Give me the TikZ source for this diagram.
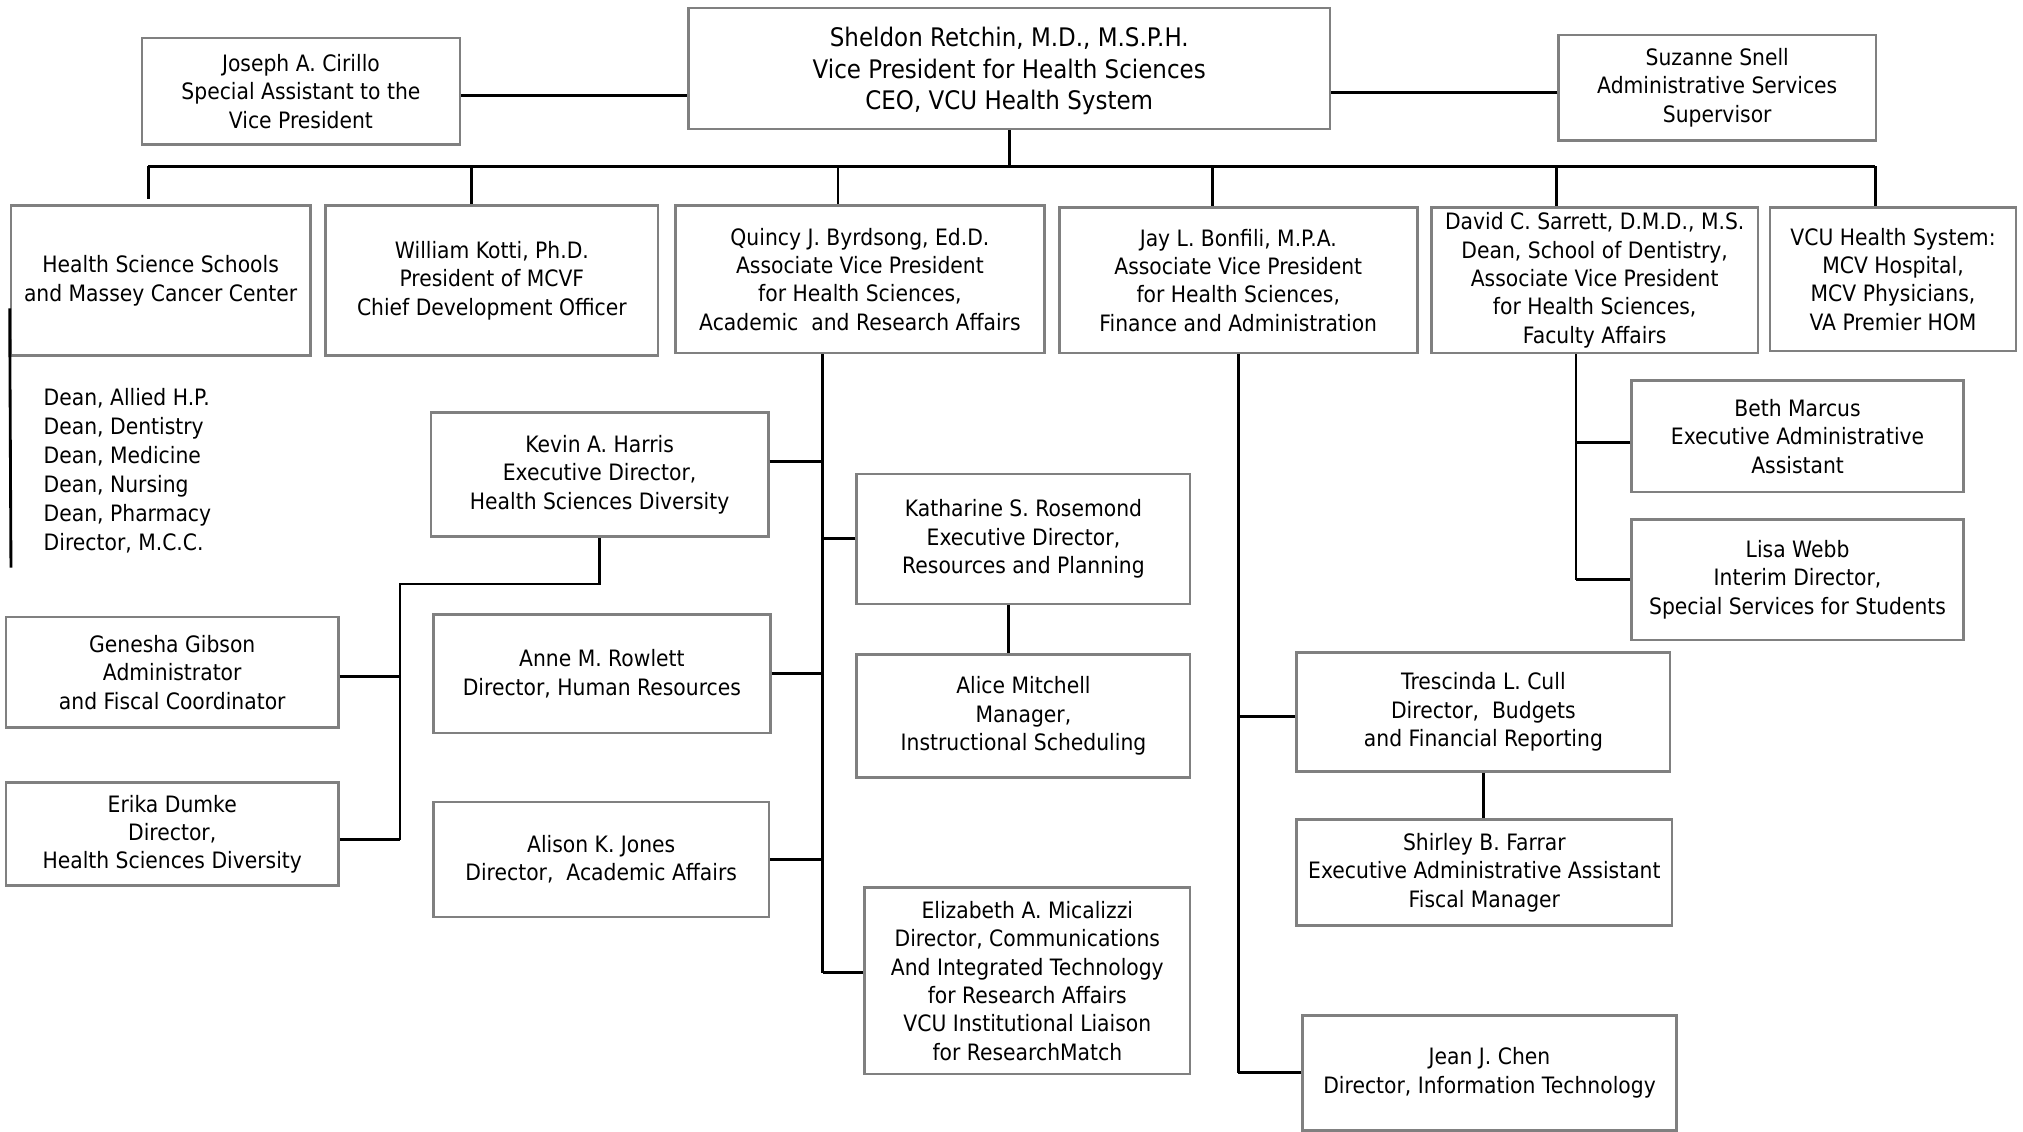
\documentclass[tikz,border=0pt]{standalone}
\usepackage{fontspec}
\setmainfont{DejaVu Sans}[FakeStretch=0.9]
\definecolor{boxgray}{rgb}{0.5,0.5,0.5}

\begin{document}
\begin{tikzpicture}[x=0.5pt,y=-0.5pt,
  person/.style={draw=boxgray,line width=1pt,align=center,inner sep=0pt,font=\fontsize{8.75}{11}\selectfont},
  link/.style={line width=1.1pt},
  thinlink/.style={line width=0.75pt}]
\useasboundingbox (0,0) rectangle (1568,877.3);

\node[person,minimum width=248.75pt,minimum height=46.9pt,text depth=0pt,font=\fontsize{9.9}{12.25}\selectfont] (sheldon) at (782.25,53.1) {Sheldon Retchin, M.D., M.S.P.H.\\Vice President for Health Sciences\\CEO, VCU Health System};
\node[person,minimum width=123.25pt,minimum height=41.3pt] (joseph) at (233.25,70.7) {Joseph A. Cirillo\\Special Assistant to the\\Vice President};
\node[person,minimum width=123pt,minimum height=41pt] (suzanne) at (1331,68) {Suzanne Snell\\Administrative Services\\Supervisor};

\node[person,minimum width=116pt,minimum height=58pt] (hss) at (124.5,217.5) {Health Science Schools\\and Massey Cancer Center};
\node[person,minimum width=128.75pt,minimum height=58pt] (kotti) at (381.25,217.5) {William Kotti, Ph.D.\\President of MCVF\\Chief Development Officer};
\node[person,minimum width=143pt,minimum height=57.1pt] (quincy) at (666.5,216.5) {Quincy J. Byrdsong, Ed.D.\\Associate Vice President\\for Health Sciences,\\Academic\ \ and Research Affairs};
\node[person,minimum width=138.75pt,minimum height=56.4pt] (bonfili) at (959.75,217.2) {Jay L. Bonfili, M.P.A.\\Associate Vice President\\for Health Sciences,\\Finance and Administration};
\node[person,minimum width=126.5pt,minimum height=56.4pt] (sarrett) at (1236,217.2) {David C. Sarrett, D.M.D., M.S.\\Dean, School of Dentistry,\\Associate Vice President\\for Health Sciences,\\Faculty Affairs};
\node[person,minimum width=95.25pt,minimum height=55.6pt] (vcu) at (1467.25,216.4) {VCU Health System:\\MCV Hospital,\\MCV Physicians,\\VA Premier HOM};

\node[anchor=west,align=left,inner sep=0pt,font=\fontsize{8.75}{11.2}\selectfont] (deans) at (33.5,365) {Dean, Allied H.P.\\Dean, Dentistry\\Dean, Medicine\\Dean, Nursing\\Dean, Pharmacy\\Director, M.C.C.};

\node[person,minimum width=130.75pt,minimum height=48.15pt] (kevin) at (464.75,367.85) {Kevin A. Harris\\Executive Director,\\Health Sciences Diversity};
\node[person,minimum width=129.25pt,minimum height=50.35pt] (katharine) at (793.25,417.65) {Katharine S. Rosemond\\Executive Director,\\Resources and Planning};
\node[person,minimum width=129pt,minimum height=42.85pt] (genesha) at (133.5,521.15) {Genesha Gibson\\Administrator\\and Fiscal Coordinator};
\node[person,minimum width=129pt,minimum height=39.9pt] (erika) at (133.5,646.6) {Erika Dumke\\Director,\\Health Sciences Diversity};
\node[person,minimum width=130.5pt,minimum height=45.85pt] (anne) at (466.5,522.25) {Anne M. Rowlett\\Director, Human Resources};
\node[person,minimum width=130pt,minimum height=44.65pt] (alison) at (466,666.15) {Alison K. Jones\\Director,\ \ Academic Affairs};
\node[person,minimum width=129.25pt,minimum height=47.85pt] (alice) at (793.25,554.95) {Alice Mitchell\\Manager,\\Instructional Scheduling};
\node[person,minimum width=126.25pt,minimum height=72.2pt] (elizabeth) at (796.25,760.3) {Elizabeth A. Micalizzi\\Director, Communications\\And Integrated Technology\\for Research Affairs\\VCU Institutional Liaison\\for ResearchMatch};

\node[person,minimum width=144.75pt,minimum height=46.15pt] (trescinda) at (1149.75,551.85) {Trescinda L. Cull\\Director,\ \ Budgets\\and Financial Reporting};
\node[person,minimum width=145.5pt,minimum height=41.15pt] (shirley) at (1150.5,676.35) {Shirley B. Farrar\\Executive Administrative Assistant\\Fiscal Manager};
\node[person,minimum width=145pt,minimum height=44.55pt] (jean) at (1154.5,831.45) {Jean J. Chen\\Director, Information Technology};
\node[person,minimum width=128.75pt,minimum height=43.15pt] (beth) at (1393.25,338.15) {Beth Marcus\\Executive Administrative\\Assistant};
\node[person,minimum width=128.75pt,minimum height=46.55pt] (lisa) at (1393.25,449.35) {Lisa Webb\\Interim Director,\\Special Services for Students};

\draw[link] ([yshift=-1.65pt]joseph.east) -- ([yshift=-1.65pt]joseph.east -| sheldon.west);
\draw[link] ([yshift=-2pt]suzanne.west) -- ([yshift=-2pt]suzanne.west -| sheldon.east);

\coordinate (b1) at (115,129);
\coordinate (b2) at (365.5,129);
\coordinate (b3) at (649.5,129);
\coordinate (b4) at (939.5,129);
\coordinate (b5) at (1206.5,129);
\coordinate (b6) at (1453.5,129);
\draw[line width=0.9pt] (b1) -- (b6);
\draw[link] (sheldon.south) -- (sheldon.south |- b1);
\draw[link] (b1) -- ([yshift=2pt]b1 |- hss.north);
\draw[link] (b2) -- (b2 |- kotti.north);
\draw[thinlink] (b3) -- (b3 |- quincy.north);
\draw[link] (b4) -- (b4 |- bonfili.north);
\draw[link] (b5) -- (b5 |- sarrett.north);
\draw[link] (b6) -- (b6 |- vcu.north);

\coordinate (d1) at (8.5,440);
\draw[link] ([yshift=-10.75pt]hss.west) -- (d1);

\coordinate (q1) at (637.5,754);
\draw[link] (q1 |- quincy.south) -- (q1);
\draw[link] ([yshift=5pt]kevin.east) -- ([yshift=5pt]kevin.east -| q1);
\draw[link] (katharine.west) -- (katharine.west -| q1);
\draw[link] (anne.east) -- (anne.east -| q1);
\draw[link] (alison.east) -- (alison.east -| q1);
\draw[link] (q1) -- (q1 -| elizabeth.west);

\coordinate (a1) at (781.5,0);
\draw[link] (a1 |- katharine.south) -- (a1 |- alice.north);

\coordinate (k1) at (310,452.6);
\coordinate (k2) at (310,651);
\draw[link] (kevin.south) |- (k1) -- (k2);
\draw[link] ([yshift=-1.75pt]genesha.east) -- ([yshift=-1.75pt]genesha.east -| k1);
\draw[link] (k2) -- (k2 -| erika.east);

\draw[link] (bonfili.south) -- (bonfili.south |- jean.west);
\draw[link] ([yshift=-1.7pt]trescinda.west) -- ([yshift=-1.7pt]trescinda.west -| bonfili.south);
\draw[link] (jean.west) -- (jean.west -| bonfili.south);
\draw[link] (trescinda.south) -- (trescinda.south |- shirley.north);

\coordinate (s1) at (1221.5,0);
\draw[thinlink] (s1 |- sarrett.south) -- (s1 |- lisa.west);
\draw[link] ([yshift=-2.4pt]beth.west) -- ([yshift=-2.4pt]beth.west -| s1);
\draw[link] (lisa.west) -- (lisa.west -| s1);
\end{tikzpicture}
\end{document}
